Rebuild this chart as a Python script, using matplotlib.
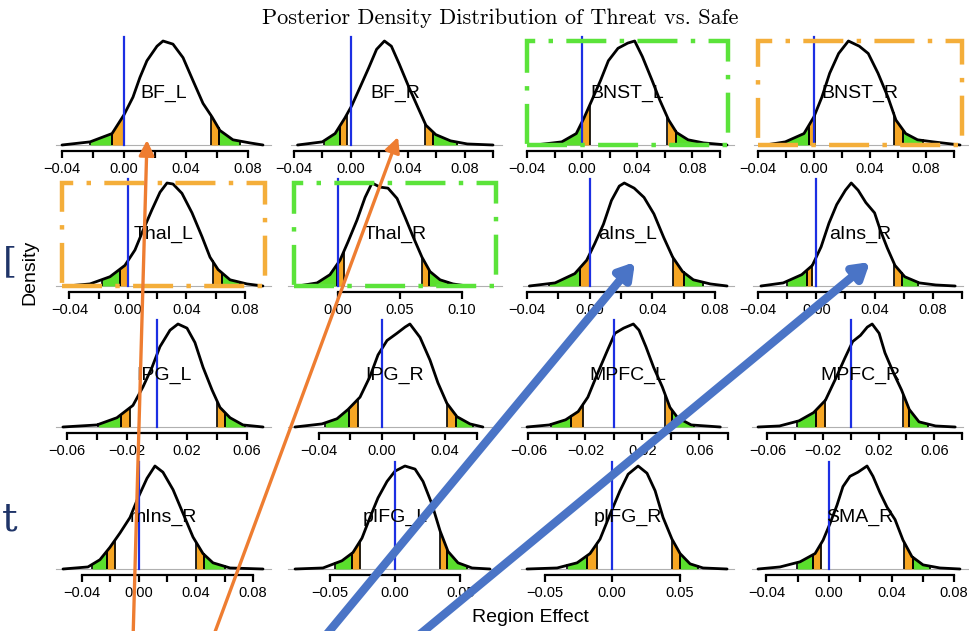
import numpy as np
import matplotlib
matplotlib.use("Agg")
import matplotlib.pyplot as plt
from matplotlib.patches import Rectangle

plt.rcParams['font.family'] = ['Liberation Sans', 'DejaVu Sans']

# ---------------- data ----------------
regions = ["BF_L", "BF_R", "BNST_L", "BNST_R",
           "Thal_L", "Thal_R", "aIns_L", "aIns_R",
           "IPG_L", "IPG_R", "MPFC_L", "MPFC_R",
           "mIns_R", "pIFG_L", "pIFG_R", "SMA_R"]

# posterior density curves: x (effect) and density relative to its peak
x_BF_L = [-0.040, -0.0219, -0.0077, 0.0, 0.0058, 0.0103, 0.0148, 0.0213, 0.0252, 0.0316, 0.0381, 0.0445, 0.051, 0.0568, 0.0619, 0.0703, 0.0813, 0.0897]
d_BF_L = [0.0, 0.03, 0.11, 0.29, 0.46, 0.65, 0.81, 0.95, 1.0, 0.97, 0.84, 0.62, 0.40, 0.27, 0.14, 0.05, 0.02, 0.0]
x_BF_R = [-0.0375, -0.0201, -0.0111, -0.0042, 0.0007, 0.0063, 0.0125, 0.0181, 0.0236, 0.0285, 0.034, 0.041, 0.0472, 0.0528, 0.0597, 0.0701, 0.0819, 0.100]
d_BF_R = [0.0, 0.03, 0.11, 0.26, 0.38, 0.55, 0.74, 0.92, 1.0, 0.95, 0.78, 0.55, 0.36, 0.19, 0.10, 0.04, 0.01, 0.0]
x_BNST_L = [-0.0339, -0.0148, -0.0042, 0.0014, 0.0071, 0.0134, 0.0191, 0.0261, 0.0332, 0.0382, 0.0438, 0.0509, 0.0565, 0.0629, 0.0686, 0.077, 0.0883, 0.1053]
d_BNST_L = [0.0, 0.03, 0.11, 0.26, 0.43, 0.62, 0.81, 0.93, 0.98, 1.0, 0.85, 0.62, 0.43, 0.24, 0.12, 0.05, 0.02, 0.0]
x_BNST_R = [-0.0346, -0.0205, -0.0071, 0.0, 0.0057, 0.0113, 0.0177, 0.0247, 0.0325, 0.0389, 0.0459, 0.053, 0.0587, 0.0657, 0.0742, 0.0855, 0.1046]
d_BNST_R = [0.0, 0.03, 0.11, 0.27, 0.46, 0.69, 0.88, 1.0, 0.95, 0.88, 0.69, 0.46, 0.24, 0.11, 0.05, 0.03, 0.0]
x_Thal_L = [-0.0417, -0.026, -0.0123, -0.0021, 0.0048, 0.0103, 0.0164, 0.0219, 0.0267, 0.0308, 0.0369, 0.0438, 0.0506, 0.0561, 0.0616, 0.0698, 0.0814, 0.0923]
d_Thal_L = [0.0, 0.02, 0.09, 0.20, 0.35, 0.54, 0.74, 0.91, 1.0, 0.99, 0.90, 0.71, 0.48, 0.28, 0.16, 0.06, 0.02, 0.0]
x_Thal_R = [-0.0323, -0.0169, -0.0065, 0.0016, 0.0081, 0.0153, 0.0218, 0.0274, 0.0339, 0.0403, 0.0476, 0.054, 0.0605, 0.0677, 0.0742, 0.0823, 0.0927, 0.104]
d_Thal_R = [0.0, 0.03, 0.11, 0.25, 0.43, 0.64, 0.86, 1.0, 0.96, 0.95, 0.85, 0.67, 0.48, 0.28, 0.14, 0.06, 0.02, 0.0]
x_aIns_L = [-0.0385, -0.0221, -0.0095, -0.0019, 0.0032, 0.0088, 0.0139, 0.0189, 0.0221, 0.0284, 0.0347, 0.041, 0.0473, 0.053, 0.0593, 0.0662, 0.077, 0.0877]
d_aIns_L = [0.0, 0.03, 0.12, 0.25, 0.41, 0.60, 0.83, 0.97, 1.0, 0.95, 0.86, 0.70, 0.47, 0.28, 0.14, 0.06, 0.02, 0.0]
x_aIns_R = [-0.038, -0.0227, -0.010, -0.0027, 0.0033, 0.0087, 0.014, 0.020, 0.024, 0.0287, 0.034, 0.040, 0.044, 0.0487, 0.054, 0.0607, 0.0707, 0.082, 0.0953]
d_aIns_R = [0.0, 0.03, 0.11, 0.20, 0.38, 0.61, 0.79, 0.93, 1.0, 0.93, 0.81, 0.71, 0.54, 0.37, 0.20, 0.09, 0.03, 0.01, 0.0]
x_IPG_L = [-0.0627, -0.040, -0.0267, -0.016, -0.0093, -0.0033, 0.002, 0.0087, 0.014, 0.020, 0.0253, 0.0307, 0.0367, 0.042, 0.0487, 0.0573, 0.0707]
d_IPG_L = [0.0, 0.02, 0.09, 0.21, 0.39, 0.58, 0.78, 0.94, 1.0, 0.96, 0.82, 0.58, 0.36, 0.19, 0.09, 0.02, 0.0]
x_IPG_R = [-0.0551, -0.038, -0.0285, -0.0215, -0.0139, -0.0076, -0.0025, 0.0032, 0.0095, 0.0146, 0.0177, 0.0241, 0.0304, 0.0354, 0.0411, 0.0475, 0.0557, 0.0639]
d_IPG_R = [0.0, 0.03, 0.08, 0.17, 0.29, 0.49, 0.70, 0.84, 0.91, 0.97, 1.0, 0.87, 0.65, 0.43, 0.23, 0.10, 0.03, 0.0]
x_MPFC_L = [-0.061, -0.0454, -0.0339, -0.0251, -0.0183, -0.0115, -0.0047, 0.0007, 0.0068, 0.0136, 0.0176, 0.0224, 0.0278, 0.0339, 0.0393, 0.0447, 0.0542, 0.0746]
d_MPFC_L = [0.0, 0.02, 0.07, 0.15, 0.29, 0.52, 0.74, 0.91, 0.96, 1.0, 0.94, 0.78, 0.58, 0.39, 0.19, 0.09, 0.02, 0.0]
x_MPFC_R = [-0.0667, -0.0512, -0.0372, -0.0267, -0.0182, -0.0112, -0.0042, 0.0014, 0.007, 0.0119, 0.0154, 0.0204, 0.0246, 0.0309, 0.0365, 0.0421, 0.0491, 0.061, 0.0751]
d_MPFC_R = [0.0, 0.01, 0.06, 0.14, 0.26, 0.46, 0.67, 0.83, 0.89, 0.97, 1.0, 0.91, 0.72, 0.52, 0.36, 0.17, 0.05, 0.01, 0.0]
x_mIns_R = [-0.0533, -0.0358, -0.0274, -0.0204, -0.0133, -0.0063, -0.0007, 0.0056, 0.0112, 0.0168, 0.0239, 0.0309, 0.0379, 0.0449, 0.0519, 0.0639, 0.087]
d_mIns_R = [0.0, 0.02, 0.09, 0.21, 0.35, 0.50, 0.69, 0.88, 1.0, 0.94, 0.77, 0.54, 0.31, 0.15, 0.06, 0.01, 0.0]
x_pIFG_L = [-0.0763, -0.055, -0.0405, -0.0321, -0.0252, -0.0191, -0.013, -0.0061, 0.0, 0.0076, 0.0153, 0.0214, 0.0282, 0.0344, 0.0405, 0.0481, 0.0588, 0.0725]
d_pIFG_L = [0.0, 0.01, 0.08, 0.16, 0.30, 0.50, 0.69, 0.85, 0.95, 1.0, 0.97, 0.85, 0.63, 0.37, 0.17, 0.06, 0.01, 0.0]
x_pIFG_R = [-0.063, -0.0407, -0.0259, -0.0163, -0.0089, -0.0015, 0.0059, 0.0119, 0.0193, 0.0259, 0.0319, 0.0378, 0.0444, 0.0504, 0.0578, 0.0674, 0.0852]
d_pIFG_R = [0.0, 0.01, 0.06, 0.15, 0.29, 0.53, 0.76, 0.92, 1.0, 0.93, 0.76, 0.50, 0.29, 0.15, 0.05, 0.01, 0.0]
x_SMA_R = [-0.0454, -0.0313, -0.0185, -0.0089, -0.0038, 0.0006, 0.0051, 0.0089, 0.0134, 0.0185, 0.0243, 0.0281, 0.0326, 0.0371, 0.0422, 0.0473, 0.053, 0.0601, 0.0709, 0.0837]
d_SMA_R = [0.0, 0.02, 0.07, 0.15, 0.28, 0.44, 0.62, 0.80, 0.90, 0.94, 1.0, 0.90, 0.74, 0.60, 0.48, 0.28, 0.12, 0.04, 0.01, 0.0]

curve_x = [x_BF_L, x_BF_R, x_BNST_L, x_BNST_R, x_Thal_L, x_Thal_R, x_aIns_L, x_aIns_R,
           x_IPG_L, x_IPG_R, x_MPFC_L, x_MPFC_R, x_mIns_R, x_pIFG_L, x_pIFG_R, x_SMA_R]
curve_d = [d_BF_L, d_BF_R, d_BNST_L, d_BNST_R, d_Thal_L, d_Thal_R, d_aIns_L, d_aIns_R,
           d_IPG_L, d_IPG_R, d_MPFC_L, d_MPFC_R, d_mIns_R, d_pIFG_L, d_pIFG_R, d_SMA_R]

# tail limits: green (outer) and orange (inner) tail regions
green_lo = [-0.022, -0.019, -0.027, -0.025, -0.018, -0.0226, -0.026, -0.020,
            -0.039, -0.036, -0.044, -0.0386, -0.033, -0.0458, -0.033, -0.0204]
orange_lo_a = [-0.0077, -0.0076, 0.0, -0.0035, -0.0055, -0.0008, -0.0063, -0.0067,
               -0.024, -0.0209, -0.0298, -0.0253, -0.0225, -0.0328, -0.0185, -0.0102]
orange_lo_b = [0.0, -0.0028, 0.0056, 0.0007, 0.0, 0.0048, 0.0, -0.0027,
               -0.018, -0.0152, -0.0217, -0.0182, -0.0168, -0.0267, -0.0111, -0.0051]
orange_hi_a = [0.056, 0.052, 0.062, 0.057, 0.058, 0.0677, 0.053, 0.0533,
               0.040, 0.0411, 0.036, 0.0379, 0.040, 0.0344, 0.0444, 0.0479]
orange_hi_b = [0.061, 0.058, 0.068, 0.0636, 0.064, 0.0734, 0.060, 0.0587,
               0.0453, 0.0468, 0.0407, 0.0421, 0.0456, 0.0397, 0.0504, 0.0537]
green_hi = [0.075, 0.075, 0.086, 0.078, 0.0766, 0.0887, 0.0726, 0.070,
            0.0587, 0.0576, 0.0563, 0.0554, 0.0604, 0.055, 0.0637, 0.0645]

zero_ref = [0.0] * 16

# axis ranges, ticks and labelled ticks for each panel
x_ranges = [(-0.0400, 0.0910), (-0.0382, 0.1021), (-0.0360, 0.1060), (-0.0382, 0.1060),
            (-0.0451, 0.0937), (-0.0355, 0.1274), (-0.0385, 0.0883), (-0.0393, 0.0967),
            (-0.0633, 0.0720), (-0.0557, 0.0722), (-0.0610, 0.0753), (-0.0667, 0.0765),
            (-0.0540, 0.0884), (-0.0771, 0.0771), (-0.0630, 0.0859), (-0.0454, 0.0850)]
ticks_a = [-0.04, -0.02, 0.0, 0.02, 0.04, 0.06, 0.08]
ticks_b = [-0.04, -0.02, 0.0, 0.02, 0.04, 0.06, 0.08, 0.10]
ticks_c = [0.0, 0.05, 0.10]
ticks_d = [-0.06, -0.04, -0.02, 0.0, 0.02, 0.04, 0.06]
ticks_e = [-0.04, -0.02, 0.0, 0.02, 0.04, 0.06]
ticks_f = [-0.06, -0.04, -0.02, 0.0, 0.02, 0.04, 0.06, 0.08]
ticks_g = [-0.05, 0.0, 0.05]
panel_ticks = [ticks_a, ticks_b, ticks_b, ticks_b,
               ticks_a, ticks_c, ticks_a, ticks_b,
               ticks_d, ticks_e, ticks_f, ticks_f,
               ticks_a, ticks_g, ticks_g, ticks_a]
labels_a = ["\u22120.04", "", "0.00", "", "0.04", "", "0.08"]
labels_b = ["\u22120.04", "", "0.00", "", "0.04", "", "0.08", ""]
labels_c = ["0.00", "0.05", "0.10"]
labels_d = ["\u22120.06", "", "\u22120.02", "", "0.02", "", "0.06"]
labels_e = ["\u22120.04", "", "0.00", "", "0.04", ""]
labels_f = ["\u22120.06", "", "\u22120.02", "", "0.02", "", "0.06", ""]
labels_g = ["\u22120.05", "0.00", "0.05"]
panel_labels = [labels_a, labels_b, labels_b, labels_b,
                labels_a, labels_c, labels_a, labels_b,
                labels_d, labels_e, labels_f, labels_f,
                labels_a, labels_g, labels_g, labels_a]

# ---------------- styling / layout ----------------
W, H = 970, 631
GREEN = '#5ADF2C'
ORANGE = '#F6A623'
BLUE = '#1C2FE3'
box_style = {2: '#5BE33A', 3: '#F4AE3A', 4: '#F4AE3A', 5: '#5BE33A'}
cols = [(62, 265), (294, 496), (527, 728), (758, 962)]
rows = [(41, 145), (183, 286), (324, 427), (466, 569)]

fig = plt.figure(figsize=(W / 100, H / 100), dpi=100)


def add_ax(l, t, r, b):
    return fig.add_axes([l / W, 1 - b / H, (r - l) / W, (b - t) / H])


for i, name in enumerate(regions):
    rr, cc = divmod(i, 4)
    l, r = cols[cc]
    t, b = rows[rr]
    ax = add_ax(l, t, r, b)
    ax.patch.set_alpha(0)
    xs = np.array(curve_x[i])
    ds = np.array(curve_d[i])
    x0, x1 = x_ranges[i]
    ax.set_xlim(x0, x1)
    ax.set_ylim(0, 1)
    span = x1 - x0
    # zero baseline
    ax.plot([x0 - 0.03 * span, x1 + 0.03 * span], [0, 0], color='#b0b0b0', lw=0.8,
            clip_on=False, zorder=1)

    def tail(a, bb, col):
        xx = np.linspace(a, bb, 30)
        yy = np.interp(xx, xs, ds)
        ax.fill_between(xx, 0, yy, color=col, lw=0, zorder=2)
        for e in (a, bb):
            ax.plot([e, e], [0, np.interp(e, xs, ds)], color='k', lw=1.2, zorder=3)

    tail(green_lo[i], orange_lo_a[i], GREEN)
    tail(orange_lo_a[i], orange_lo_b[i], ORANGE)
    tail(orange_hi_a[i], orange_hi_b[i], ORANGE)
    tail(orange_hi_b[i], green_hi[i], GREEN)
    ax.plot(xs, ds, color='k', lw=2.0, solid_joinstyle='round', solid_capstyle='round',
            zorder=4, clip_on=False)
    ax.plot([zero_ref[i]] * 2, [0, 1.04], color=BLUE, lw=1.6, zorder=5, clip_on=False)
    ax.text(0.5, 0.5, name, transform=ax.transAxes, ha='center', va='center',
            fontsize=14, zorder=6)

    for s in ('top', 'left', 'right'):
        ax.spines[s].set_visible(False)
    ax.spines['bottom'].set_position(('outward', 4))
    ax.spines['bottom'].set_linewidth(1.6)
    tk = panel_ticks[i]
    ax.spines['bottom'].set_bounds(tk[0], tk[-1])
    ax.set_xticks(tk)
    ax.set_xticklabels(panel_labels[i])
    ax.set_yticks([])
    ax.tick_params(axis='x', length=5, width=1.6, pad=3, labelsize=10.5, direction='out')

    if i in box_style:
        ax.add_patch(Rectangle((0, 0), 1, 1, transform=ax.transAxes, fill=False,
                               ec=box_style[i], lw=3.2, ls=(0, (9, 3, 1, 3)),
                               clip_on=False, zorder=7))

# titles
fig.text(500 / W, 1 - 18 / H, "Posterior Density Distribution of Threat vs. Safe",
         ha='center', va='center', fontsize=16, family=['cmr10', 'DejaVu Serif'])
fig.text(30 / W, 1 - 272 / H, "Density", rotation=90, ha='center', va='center', fontsize=14)
fig.text(530 / W, 1 - 617 / H, "Region Effect", ha='center', va='center', fontsize=14)

# slide fragments at the left edge
fig.text(3 / W, 1 - 262 / H, "[", ha='left', va='center', fontsize=26, color='#1F3468',
         family=['DejaVu Serif'])
fig.text(2 / W, 1 - 520 / H, "t", ha='left', va='center', fontsize=28, color='#1F3468',
         family=['DejaVu Serif'])

# annotation arrows overlay
ov = fig.add_axes([0, 0, 1, 1], zorder=20)
ov.set_xlim(0, W)
ov.set_ylim(H, 0)
ov.axis('off')
ov.patch.set_alpha(0)
for tail_pt, head_pt in [((133, 640), (147, 140)), ((212, 640), (398, 137))]:
    ov.annotate('', xy=head_pt, xytext=tail_pt,
                arrowprops=dict(arrowstyle='-|>,head_length=0.9,head_width=0.45',
                                color='#EE7D31', lw=2.4, shrinkA=0, shrinkB=0))
for tail_pt, head_pt in [((322, 640), (635, 262)), ((413, 640), (870, 262))]:
    ov.annotate('', xy=head_pt, xytext=tail_pt,
                arrowprops=dict(arrowstyle='-|>,head_length=0.9,head_width=0.55',
                                color='#4A74C6', lw=6, shrinkA=0, shrinkB=0))

fig.savefig('out.png', dpi=100)
